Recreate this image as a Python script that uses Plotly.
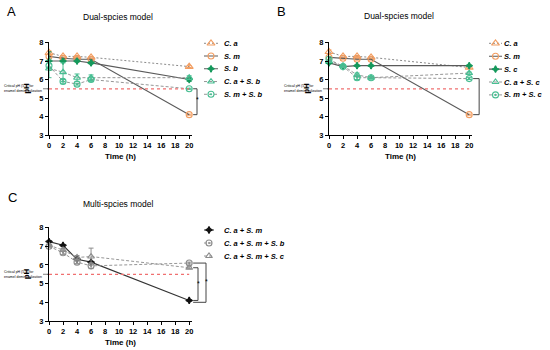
import plotly.graph_objects as go

FONT = "Liberation Sans, Arial, sans-serif"
W, H = 550, 350

time_h = [0, 2, 4, 6, 20]
x_ticks = [0, 2, 4, 6, 8, 10, 12, 14, 16, 18, 20]
y_ticks = [3, 4, 5, 6, 7, 8]
X_RANGE = [0, 20.4]
Y_RANGE = [3, 8.03]
critical_ph = 5.5
critical_text = "Critical pH (5.5) for<br>enamel demineralization"

# ---- Panel A : Dual-species model (S. b) ----
a_names = ["C. a", "S. m", "S. b", "C. a + S. b", "S. m + S. b"]
a_ca = [7.45, 7.25, 7.25, 7.2, 6.7]
a_sm = [7.25, 7.15, 7.1, 7.1, 4.1]
a_sb = [7.0, 7.0, 7.0, 6.9, 6.0]
a_ca_sb = [6.6, 6.4, 6.1, 6.1, 6.1]
a_sm_sb = [6.75, 5.9, 5.75, 6.0, 5.5]
a_err_ca = [0.1, 0.05, 0.05, 0.05, 0.05]
a_err_sm = [0.05, 0.05, 0.05, 0.05, 0.03]
a_err_sb = [0.5, 0.05, 0.05, 0.05, 0.1]
a_err_ca_sb = [0.5, 0.5, 0.2, 0.15, 0.1]
a_err_sm_sb = [0.1, 0.1, 0.05, 0.1, 0.03]

# ---- Panel B : Dual-species model (S. c) ----
b_names = ["C. a", "S. m", "S. c", "C. a + S. c", "S. m + S. c"]
b_ca = [7.5, 7.25, 7.25, 7.2, 6.65]
b_sm = [7.2, 7.15, 7.1, 7.1, 4.1]
b_sc = [6.9, 6.7, 6.75, 6.75, 6.75]
b_ca_sc = [7.0, 6.75, 6.25, 6.1, 6.35]
b_sm_sc = [7.1, 6.7, 6.1, 6.1, 6.05]
b_err_ca = [0.1, 0.05, 0.05, 0.05, 0.05]
b_err_sm = [0.05, 0.05, 0.05, 0.05, 0.03]
b_err_sc = [0.05, 0.05, 0.03, 0.03, 0.03]
b_err_ca_sc = [0.05, 0.05, 0.1, 0.05, 0.05]
b_err_sm_sc = [0.05, 0.05, 0.1, 0.05, 0.05]

# ---- Panel C : Multi-species model ----
c_names = ["C. a + S. m", "C. a + S. m + S. b", "C. a + S. m + S. c"]
c_ca_sm = [7.25, 7.05, 6.3, 6.15, 4.1]
c_ca_sm_sb = [7.0, 6.65, 6.15, 5.95, 6.1]
c_ca_sm_sc = [7.05, 6.8, 6.4, 6.45, 5.85]
c_err_ca_sm = [0.05, 0.05, 0.05, 0.05, 0.03]
c_err_ca_sm_sb = [0.05, 0.1, 0.08, 0.15, 0.05]
c_err_ca_sm_sc = [0.05, 0.08, 0.1, 0.45, 0.05]

ORANGE = "#F29E62"
GREEN = "#15995C"
LGREEN = "#48BE92"
GREY = "#8A8A8A"
DARK = "#5A5A5A"

# style: (marker color, symbol, size, line color, dash, line width)
st_ca = (ORANGE, "triangle-up-open", 7, GREY, "2px,2px", 1.0)
st_sm = (ORANGE, "circle-open", 6, DARK, "solid", 1.1)
st_sx = (GREEN, "star-diamond", 5, DARK, "solid", 1.1)
st_ca_sx = (LGREEN, "triangle-up-open", 6, GREY, "3px,2px", 0.9)
st_sm_sx = (LGREEN, "circle-open-dot", 6, GREY, "3px,2px", 0.9)
st_c1 = ("#111111", "star-diamond", 5, "#333333", "solid", 1.1)
st_c2 = ("#8C8C8C", "circle-open-dot", 6, GREY, "3px,2px", 0.9)
st_c3 = ("#8C8C8C", "triangle-up-open", 6, GREY, "3px,2px", 0.9)

panels = [
    dict(key="", title="Dual-spcies model", letter="A",
         series=[(a_names[0], a_ca, a_err_ca, st_ca), (a_names[1], a_sm, a_err_sm, st_sm),
                 (a_names[2], a_sb, a_err_sb, st_sx), (a_names[3], a_ca_sb, a_err_ca_sb, st_ca_sx),
                 (a_names[4], a_sm_sb, a_err_sm_sb, st_sm_sx)],
         xdom=(49, 192), ydom=(42, 135), title_pos=(118, 17), letter_pos=(11, 12),
         leg_x=(204, 218), leg_text=222, leg_rows=(43.3, 12.75),
         brackets=[(a_sm_sb[-1], a_sm[-1], 1.035, 1.06, 4.9)]),
    dict(key="2", title="Dual-spcies model", letter="B",
         series=[(b_names[0], b_ca, b_err_ca, st_ca), (b_names[1], b_sm, b_err_sm, st_sm),
                 (b_names[2], b_sc, b_err_sc, st_sx), (b_names[3], b_ca_sc, b_err_ca_sc, st_ca_sx),
                 (b_names[4], b_sm_sc, b_err_sm_sc, st_sm_sx)],
         xdom=(329, 472), ydom=(42, 135), title_pos=(399, 16), letter_pos=(281, 12),
         leg_x=(489, 502), leg_text=502, leg_rows=(43.3, 12.9),
         brackets=[(b_sm_sc[-1], b_sm[-1], 1.05, None, None)]),
    dict(key="3", title="Multi-spcies model", letter="C",
         series=[(c_names[0], c_ca_sm, c_err_ca_sm, st_c1), (c_names[1], c_ca_sm_sb, c_err_ca_sm_sb, st_c2),
                 (c_names[2], c_ca_sm_sc, c_err_ca_sm_sc, st_c3)],
         xdom=(49, 192), ydom=(227, 321), title_pos=(118, 204), letter_pos=(12, 197),
         leg_x=(204, 214), leg_text=222, leg_rows=(230, 13),
         brackets=[(c_ca_sm_sc[-1], c_ca_sm[-1], 1.042, 1.07, 5.0),
                   (c_ca_sm_sb[-1], 4.0, 1.098, 1.125, 5.1)]),
]


def yfrac(v):
    return (v - Y_RANGE[0]) / (Y_RANGE[1] - Y_RANGE[0])


fig = go.Figure()
annotations = []
shapes = []
layout_axes = {}

for pi, p in enumerate(panels):
    k = p["key"]
    xa, ya = "x" + k, "y" + k
    for name, vals, err, st in p["series"]:
        col, sym, size, lcol, dash, lw = st
        fig.add_trace(go.Scatter(
            x=time_h, y=vals, xaxis=xa, yaxis=ya, name=name, showlegend=False,
            mode="lines+markers", cliponaxis=False,
            line=dict(color=lcol, dash=dash, width=lw),
            marker=dict(symbol=sym, size=size, color=col, line=dict(color=col, width=1.1)),
            error_y=dict(type="data", array=err, color=col, thickness=1, width=2.5),
        ))
    x0, x1 = p["xdom"]
    y0, y1 = p["ydom"]
    common = dict(showline=True, linecolor="black", linewidth=1.3, ticks="outside",
                  ticklen=3, tickwidth=1.2, tickcolor="black", showgrid=False, zeroline=False,
                  automargin=False,
                  tickfont=dict(family=FONT, size=7.5, color="black", weight="bold"))
    layout_axes["xaxis" + k] = dict(common, domain=[x0 / W, x1 / W], range=X_RANGE,
                                    tickvals=x_ticks, anchor=ya,
                                    title=dict(text="<b>Time (h)</b>", standoff=4,
                                               font=dict(family=FONT, size=8, color="black")))
    layout_axes["yaxis" + k] = dict(common, domain=[1 - y1 / H, 1 - y0 / H], range=Y_RANGE,
                                    tickvals=y_ticks, anchor=xa,
                                    title=dict(text="<b>pH</b>", standoff=8,
                                               font=dict(family=FONT, size=8, color="black")))
    shapes.append(dict(type="line", xref=xa, yref=ya, x0=0, x1=20, y0=critical_ph, y1=critical_ph,
                       line=dict(color="#F07070", width=1.2, dash="dot")))
    annotations.append(dict(xref=xa, yref=ya, x=0, y=critical_ph, text=critical_text, showarrow=True,
                            ax=-6, ay=0, xanchor="right", align="left", arrowhead=2, arrowsize=0.5,
                            arrowwidth=0.5, arrowcolor="black", borderpad=0,
                            font=dict(family=FONT, size=3.5, color="black")))
    for ytop, ybot, xv, xs, ys in p["brackets"]:
        for (xa0, ya0, xa1, ya1) in [(1.008, ytop, xv, ytop), (xv, ytop, xv, ybot), (1.008, ybot, xv, ybot)]:
            shapes.append(dict(type="line", xref=xa + " domain", yref=ya + " domain",
                               x0=xa0, x1=xa1, y0=yfrac(ya0), y1=yfrac(ya1),
                               line=dict(color="#444444", width=1)))
        if xs is not None:
            annotations.append(dict(xref=xa + " domain", yref=ya + " domain", x=xs, y=yfrac(ys),
                                    text="*", showarrow=False,
                                    font=dict(family=FONT, size=7, color="black")))
    tx, ty = p["title_pos"]
    annotations.append(dict(xref="paper", yref="paper", x=tx / W, y=1 - ty / H, text=p["title"],
                            xanchor="center", yanchor="middle",
                            showarrow=False, font=dict(family=FONT, size=8.5, color="black")))
    lx, ly = p["letter_pos"]
    annotations.append(dict(xref="paper", yref="paper", x=lx / W, y=1 - ly / H, text=p["letter"],
                            xanchor="center", yanchor="middle",
                            showarrow=False, font=dict(family=FONT, size=13, color="black")))
    # legend on a helper axis
    n = len(p["series"])
    lk = str(4 + pi)
    lxa, lya = "x" + lk, "y" + lk
    r0, dr = p["leg_rows"]
    lx0, lx1 = p["leg_x"]
    top = r0 - dr / 2
    bot = r0 + dr * (n - 1) + dr / 2
    layout_axes["xaxis" + lk] = dict(domain=[lx0 / W, lx1 / W], range=[0, 1], visible=False,
                                     anchor=lya, fixedrange=True, automargin=False)
    layout_axes["yaxis" + lk] = dict(domain=[1 - bot / H, 1 - top / H], range=[n - 0.5, -0.5],
                                     visible=False, anchor=lxa, fixedrange=True, automargin=False)
    for i, (name, vals, err, st) in enumerate(p["series"]):
        col, sym, size, lcol, dash, lw = st
        fig.add_trace(go.Scatter(x=[0, 1], y=[i, i], xaxis=lxa, yaxis=lya, mode="lines",
                                 showlegend=False, hoverinfo="skip", cliponaxis=False,
                                 line=dict(color=lcol, dash=dash, width=lw)))
        fig.add_trace(go.Scatter(x=[0.5], y=[i], xaxis=lxa, yaxis=lya, mode="markers",
                                 showlegend=False, hoverinfo="skip", cliponaxis=False,
                                 marker=dict(symbol=sym, size=size, color=col,
                                             line=dict(color=col, width=1.1))))
        annotations.append(dict(xref=lxa + " domain", yref=lya, x=(p["leg_text"] - lx0) / (lx1 - lx0),
                                y=i, xanchor="left", showarrow=False,
                                text="<b><i>" + name + "</i></b>",
                                font=dict(family=FONT, size=7.5, color="black")))

fig.update_layout(
    width=W, height=H, margin=dict(l=0, r=0, t=0, b=0),
    paper_bgcolor="white", plot_bgcolor="white", showlegend=False,
    annotations=annotations, shapes=shapes, **layout_axes,
)

fig.write_html("out.html", config={"displayModeBar": False},
               post_script="document.body.style.margin='0px';")
